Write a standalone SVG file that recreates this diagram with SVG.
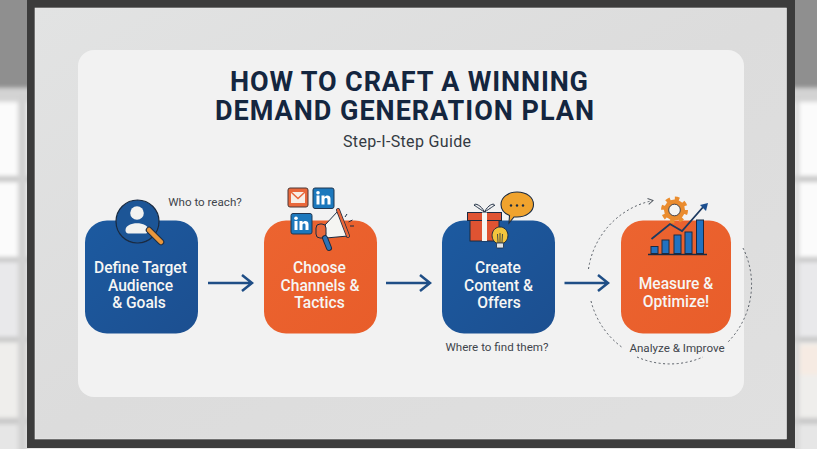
<svg xmlns="http://www.w3.org/2000/svg" width="817" height="449" viewBox="0 0 817 449">
<defs>
<filter id="bgblur" x="-10%" y="-10%" width="120%" height="120%"><feGaussianBlur stdDeviation="2"/></filter>
<filter id="soft" x="-20%" y="-20%" width="140%" height="140%"><feGaussianBlur stdDeviation="0.45"/></filter>
<linearGradient id="panel" x1="0" y1="0" x2="1" y2="1"><stop offset="0" stop-color="#e2e3e3"/><stop offset="0.5" stop-color="#dcdcdc"/><stop offset="1" stop-color="#e0e0e0"/></linearGradient>
<linearGradient id="blueFill" x1="0" y1="0" x2="1" y2="1"><stop offset="0" stop-color="#1c5aa0"/><stop offset="1" stop-color="#1c4f90"/></linearGradient>
<linearGradient id="orangeFill" x1="0" y1="0" x2="1" y2="1"><stop offset="0" stop-color="#ec6430"/><stop offset="1" stop-color="#e85d2a"/></linearGradient>
<marker id="dashHead" markerWidth="8" markerHeight="8" refX="6" refY="4" orient="auto" markerUnits="userSpaceOnUse"><path d="M1 1L6 4L1 7" fill="none" stroke="#555b63" stroke-width="1"/></marker>
<g id="li"><rect x="0" y="0" width="21" height="20.5" rx="2" fill="#1f78bd" stroke="#21364f" stroke-width="1"/><rect x="3.5" y="7.5" width="3" height="9" fill="#fff"/><circle cx="5" cy="4.7" r="1.8" fill="#fff"/><path d="M8.5 7.5h3v1.5c1.6-2.400 6-2.200 6 1.800v5.700h-3v-5c0-2-3-2-3 0v5h-3z" fill="#fff"/></g>
</defs>
<style>
.step{font-family:Roboto,"Liberation Sans",sans-serif;font-size:15.600px;font-weight:500;fill:#f6f6f4;text-anchor:middle}
.note{font-family:Roboto,"Liberation Sans",sans-serif;font-size:11.600px;fill:#3f454c;text-anchor:middle}
.title{font-family:Roboto,"Liberation Sans",sans-serif;font-size:27px;font-weight:700;fill:#14263f;text-anchor:middle}
.arrow{fill:none;stroke:#1f4e86;stroke-width:2.500}
.dash{fill:none;stroke:#555b63;stroke-width:1;stroke-dasharray:2 2.500}
.ink{stroke:#1c2c42;stroke-width:1}
</style>

<g id="background" filter="url(#bgblur)">
<rect x="-10" y="-10" width="837" height="469" fill="#ececec"/>
<rect x="-10" y="-10" width="837" height="100" fill="#8f8f8f"/>
<rect x="-10" y="88" width="837" height="14" fill="#d3d3d3"/>
<rect x="-10" y="102" width="837" height="76" fill="#fbfbfb"/>
<rect x="-10" y="182" width="837" height="76" fill="#fbfbfb"/>
<rect x="-10" y="262" width="837" height="76" fill="#e9e9eb"/>
<rect x="-10" y="342" width="837" height="76" fill="#efeeec"/>
<rect x="800" y="345" width="30" height="30" fill="#f6ebe3"/>
<rect x="-10" y="424" width="837" height="40" fill="#e6e6e6"/>
<rect x="-10" y="176" width="837" height="6" fill="#c6c6c6"/>
<rect x="-10" y="257" width="837" height="5" fill="#c6c6c6"/>
<rect x="-10" y="337" width="837" height="5" fill="#c4c4c4"/>
<rect x="-10" y="418" width="837" height="6" fill="#c6c6c6"/>
<rect x="18" y="96" width="9" height="360" fill="#d2d2d2"/>
<rect x="795" y="96" width="4" height="360" fill="#d2d2d2"/>
</g>

<g id="frame">
<rect x="27" y="-2" width="768" height="450" fill="#3c3c3c"/>
<rect x="35" y="8" width="751.500" height="431" fill="url(#panel)" stroke="#efefef" stroke-width="0.600"/>
</g>
<rect id="card" x="78" y="50" width="666" height="347" rx="16" fill="#f2f2f2"/>

<g id="heading">
<text class="title" x="409" y="90.500" textLength="358">HOW TO CRAFT A WINNING</text>
<text class="title" x="404.500" y="120" textLength="379">DEMAND GENERATION PLAN</text>
<text x="407" y="147" font-family="Roboto, 'Liberation Sans', sans-serif" font-size="16" fill="#343a42" text-anchor="middle" textLength="128">Step-I-Step Guide</text>
</g>

<g id="connectors">
<path class="arrow" d="M208 283H251M242 275L252 283L242 291"/>
<path class="arrow" d="M386 283H429M420 275L430 283L420 291"/>
<path class="arrow" d="M564.500 283H607M598 275L608 283L598 291"/>
<path class="dash" d="M588.500 269A82 82 0 0 1 653 200.500" marker-end="url(#dashHead)"/>
<path class="dash" d="M743 248A82 82 0 0 1 728 342"/>
<path class="dash" d="M591 301A82 82 0 0 0 623 348"/>
<path class="dash" d="M637 357A82 82 0 0 0 703 357"/>
</g>

<g id="node-define">
<rect x="85" y="220.500" width="113" height="113" rx="22" fill="url(#blueFill)"/>
<g filter="url(#soft)">
<circle cx="137.500" cy="221.500" r="21.500" fill="#1c5596" stroke="#1a2a40" stroke-width="1.200"/>
<circle cx="137" cy="213" r="6.800" fill="#f2f2f0"/>
<path d="M125.500 230c0-9 23-9 23 0c0 3-2 3.500-4 3.500h-15c-2 0-4-.5-4-3.500z" fill="#f2f2f0"/>
<path d="M149 230L161 242" stroke="#1c2c42" stroke-width="6.500" stroke-linecap="round"/>
<path d="M149 230L161 242" stroke="#e8963a" stroke-width="4.500" stroke-linecap="round"/>
</g>
<text class="step" x="140.500" y="273">Define Target</text>
<text class="step" x="140.500" y="291">Audience</text>
<text class="step" x="139" y="308">&amp; Goals</text>
</g>

<g id="node-channels">
<rect x="264" y="220.500" width="113" height="113" rx="22" fill="url(#orangeFill)"/>
<g filter="url(#soft)">
<rect x="288" y="188" width="20" height="19" rx="2" fill="#e9673a" stroke="#4a3a36" stroke-width="1"/>
<path d="M291 192H305V203H291z" fill="#f7efe7"/>
<path d="M291 192L298 198.500L305 192" fill="none" stroke="#e9673a" stroke-width="1.500"/>
<use href="#li" x="313" y="188"/>
<use href="#li" x="291" y="213.500"/>
<path d="M325 225L338 211L348 236L326 238z" fill="#f5f5f2" stroke="#1c2c42" stroke-width="1"/>
<path d="M338 210L348 236" stroke="#1c2c42" stroke-width="4" stroke-linecap="round"/>
<path d="M338 210L348 236" stroke="#e8673a" stroke-width="2.500" stroke-linecap="round"/>
<rect x="316" y="224" width="10" height="14" rx="4" fill="#e8673a" stroke="#1c2c42" stroke-width="1"/>
<path d="M325 238L329 248" stroke="#1c2c42" stroke-width="6" stroke-linecap="round"/>
<path d="M325 238L329 248" stroke="#2f72b5" stroke-width="4" stroke-linecap="round"/>
<path d="M345 217L347 214M348.500 222L352.500 220M350 226L354 226" stroke="#1c2c42" stroke-width="1"/>
</g>
<text class="step" x="319.500" y="273">Choose</text>
<text class="step" x="320" y="291">Channels &amp;</text>
<text class="step" x="319.500" y="308">Tactics</text>
</g>

<g id="node-content">
<rect x="442" y="220.500" width="113" height="113" rx="22" fill="url(#blueFill)"/>
<g filter="url(#soft)">
<path d="M484.500 212C478 208 473 204 475 206C472 203 480 203 484.500 212C489 203 496 203 494 206C496 204 491 208 484.500 212z" fill="none" stroke="#1c2c42" stroke-width="1"/>
<rect x="470" y="219" width="29" height="22" fill="#df5230" stroke="#1c2c42" stroke-width="1"/>
<rect x="467.500" y="212.500" width="34" height="8" fill="#df5230" stroke="#1c2c42" stroke-width="1"/>
<rect x="482" y="212.500" width="5" height="28.500" fill="#f5f5f2"/>
<path d="M517 192c10 0 16.500 5.500 16.500 12.500s-7 12.500-16.500 12.500h-3l-5 6l.5-7.500c-5-2-8.500-6-8.500-11c0-7 7-12.500 16-12.500z" fill="#f0a32d" stroke="#1c2c42" stroke-width="1.100"/>
<circle cx="511" cy="205.500" r="1.200" fill="#1c2c42"/><circle cx="517" cy="205.500" r="1.200" fill="#1c2c42"/><circle cx="523" cy="205.500" r="1.200" fill="#1c2c42"/>
<path d="M496 243c-7-5-4-16 4-16s11 11 4 16z" fill="#f3c53d" stroke="#1c2c42" stroke-width="1"/>
<path d="M498 242L497.500 234M502 242L502.500 234M500 242V233" stroke="#1c2c42" stroke-width="0.800"/>
<rect x="496.500" y="243" width="7" height="5" rx="1" fill="#dfe3e6" stroke="#1c2c42" stroke-width="0.800"/>
</g>
<text class="step" x="498" y="273">Create</text>
<text class="step" x="498.500" y="291">Content &amp;</text>
<text class="step" x="499" y="308">Offers</text>
</g>

<g id="node-measure">
<rect x="621" y="220.500" width="110" height="113" rx="22" fill="url(#orangeFill)"/>
<g filter="url(#soft)">
<circle cx="674.500" cy="210" r="11.500" fill="none" stroke="#ea8c2e" stroke-width="4" stroke-dasharray="4.400 4.630"/>
<circle cx="674.500" cy="210" r="10.500" fill="#ea8c2e"/>
<circle cx="674.500" cy="210" r="5.800" fill="#f5f5f2" stroke="#1c2c42" stroke-width="0.800"/>
<rect class="ink" x="651" y="246.500" width="7" height="7" fill="#2472c0"/>
<rect class="ink" x="662" y="240" width="7" height="13.500" fill="#2472c0"/>
<rect class="ink" x="674" y="235" width="7" height="18.500" fill="#2472c0"/>
<rect class="ink" x="685" y="232" width="7" height="21.500" fill="#2472c0"/>
<rect class="ink" x="696.500" y="220" width="7" height="33.500" fill="#2472c0"/>
<path d="M648 254.500H707" stroke="#1c2c42" stroke-width="1.300"/>
<path d="M651.500 239L670 224L682 231L704 206" fill="none" stroke="#1c3a60" stroke-width="1.800"/>
<path d="M708 203L700 205L706 211z" fill="#1c4f90"/>
</g>
<text class="step" x="676" y="289">Measure &amp;</text>
<text class="step" x="676" y="307">Optimize!</text>
</g>

<g id="labels">
<text class="note" x="205" y="206">Who to reach?</text>
<text class="note" x="497" y="351">Where to find them?</text>
<text class="note" x="677" y="352">Analyze &amp; Improve</text>
</g>
</svg>
